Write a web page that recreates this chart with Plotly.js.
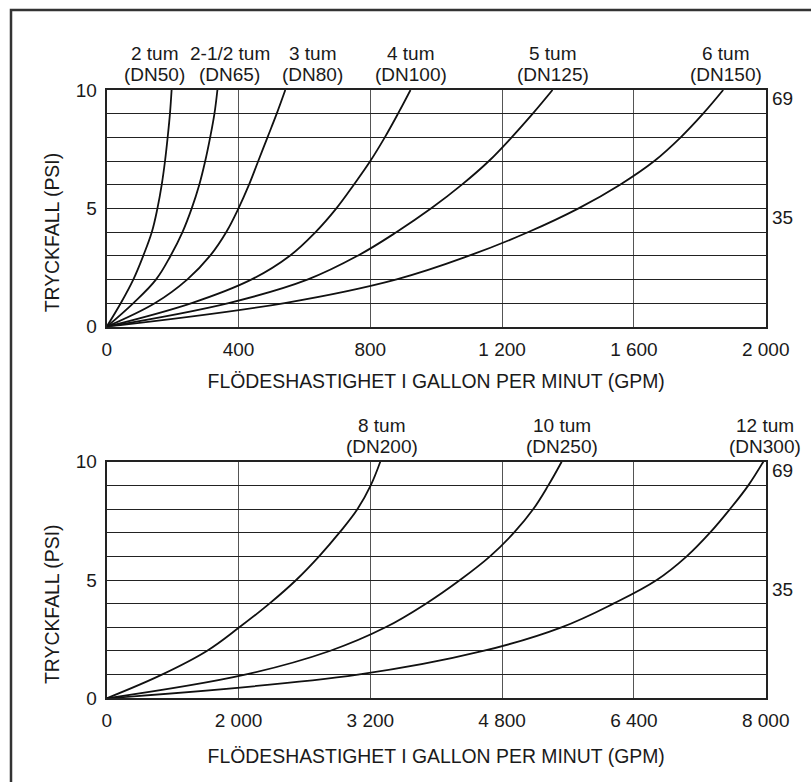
<!DOCTYPE html>
<html>
<head>
<meta charset="utf-8">
<script src="https://cdn.plot.ly/plotly-3.0.1.min.js"></script>
<style>
  html, body { margin: 0; padding: 0; background: #fff; }
  #chart { width: 811px; height: 782px; }
</style>
</head>
<body>
<div id="chart"></div>
<script>
// ---- Data (pressure drop in psi vs flow in GPM) ----
const psiLevels = [0, 1, 2, 3, 4, 5, 6, 7, 8, 9, 10];

// Upper chart: flow (GPM) at each psi level
const flow2in   = [0, 43, 81, 111, 137, 154, 167, 177, 185, 192, 197];
const flow25in  = [0, 81, 150, 194, 230, 258, 281, 299, 314, 327, 336];
const flow3in   = [0, 147, 245, 314, 363, 400, 432, 460, 488, 516, 542];
const flow4in   = [0, 258, 440, 556, 634, 697, 750, 800, 844, 884, 922];
const flow5in   = [0, 370, 611, 762, 880, 985, 1078, 1160, 1229, 1293, 1353];
const flow6in   = [0, 540, 880, 1100, 1280, 1432, 1558, 1662, 1742, 1810, 1871];

// Lower chart
const flow8in   = [0, 670, 1215, 1610, 1975, 2300, 2578, 2825, 3045, 3205, 3321];
const flow10in  = [0, 1680, 2707, 3385, 3875, 4289, 4653, 4944, 5179, 5361, 5523];
const flow12in  = [0, 3050, 4570, 5520, 6150, 6677, 7041, 7324, 7567, 7789, 7971];

const topSeries = [flow2in, flow25in, flow3in, flow4in, flow5in, flow6in];
const topSizeLabels = ['2 tum', '2-1/2 tum', '3 tum', '4 tum', '5 tum', '6 tum'];
const topDnLabels = ['(DN50)', '(DN65)', '(DN80)', '(DN100)', '(DN125)', '(DN150)'];
const topLabelX = [146, 374, 625, 922, 1353, 1880];

const botSeries = [flow8in, flow10in, flow12in];
const botSizeLabels = ['8 tum', '10 tum', '12 tum'];
const botDnLabels = ['(DN200)', '(DN250)', '(DN300)'];
const botLabelX = [3336, 5533, 7990];

const topXTicks = [0, 400, 800, 1200, 1600, 2000];
const topXText = ['0', '400', '800', '1 200', '1 600', '2 000'];
const botXTicks = [0, 1600, 3200, 4800, 6400, 8000];
const botXText = ['0', '2 000', '3 200', '4 800', '6 400', '8 000'];
const yTicks = [0, 1, 2, 3, 4, 5, 6, 7, 8, 9, 10];
const yText = ['0', '', '', '', '', '5', '', '', '', '', '10'];
const kpaLabels = ['69', '35'];
const kpaAt = [10, 5];

const xTitle = 'FLÖDESHASTIGHET I GALLON PER MINUT (GPM)';
const yTitle = 'TRYCKFALL (PSI)';

// ---- Styling ----
const W = 811, H = 782;
const FONT = '"Liberation Sans", Arial, Helvetica, sans-serif';
const TXT = '#1a1a1a';
const FS = 19;
const xDom = [106.7 / W, 765.7 / W];
const topDom = [(H - 326.7) / H, (H - 90) / H];
const botDom = [(H - 698.3) / H, (H - 461.7) / H];

const lineStyle = { color: '#111', width: 1.8, shape: 'spline', smoothing: 1.1 };
const traces = [];
topSeries.forEach((s, i) => traces.push({
  x: s, y: psiLevels, xaxis: 'x', yaxis: 'y', mode: 'lines',
  line: lineStyle, name: topSizeLabels[i], hoverinfo: 'x+y'
}));
botSeries.forEach((s, i) => traces.push({
  x: s, y: psiLevels, xaxis: 'x2', yaxis: 'y2', mode: 'lines',
  line: lineStyle, name: botSizeLabels[i], hoverinfo: 'x+y'
}));

function xAxis(dom, range, tv, tt, anchor, standoff) {
  return {
    domain: dom, range: range, anchor: anchor,
    tickvals: tv, ticktext: tt, ticks: '',
    showgrid: true, gridcolor: '#555', gridwidth: 1,
    zeroline: false, showline: true, mirror: true, linecolor: '#222', linewidth: 2,
    tickfont: { family: FONT, size: FS, color: TXT },
    ticklabelstandoff: 4,
    title: { text: xTitle, font: { family: FONT, size: 19.4, color: TXT }, standoff: standoff },
    fixedrange: true
  };
}
function yAxis(dom, anchor) {
  return {
    domain: dom, range: [0, 10], anchor: anchor,
    tickvals: yTicks, ticktext: yText, ticks: '',
    showgrid: true, gridcolor: '#222', gridwidth: 1,
    zeroline: false, showline: true, mirror: true, linecolor: '#222', linewidth: 2,
    tickfont: { family: FONT, size: FS, color: TXT },
    ticklabelstandoff: 4,
    fixedrange: true
  };
}

const annotations = [];
function addLabels(sizes, dns, xs, xref, yref) {
  sizes.forEach((t, i) => {
    annotations.push({ text: t, x: xs[i], xref: xref, y: 1, yref: yref + ' domain',
      xanchor: 'center', yanchor: 'middle', yshift: 36, showarrow: false,
      font: { family: FONT, size: FS, color: TXT } });
    annotations.push({ text: dns[i], x: xs[i], xref: xref, y: 1, yref: yref + ' domain',
      xanchor: 'center', yanchor: 'middle', yshift: 15, showarrow: false,
      font: { family: FONT, size: FS, color: TXT } });
  });
}
addLabels(topSizeLabels, topDnLabels, topLabelX, 'x', 'y');
addLabels(botSizeLabels, botDnLabels, botLabelX, 'x2', 'y2');
['x', 'x2'].forEach((xr, k) => {
  const yr = k === 0 ? 'y' : 'y2';
  kpaLabels.forEach((t, i) => annotations.push({
    text: t, x: 1, xref: xr + ' domain', y: kpaAt[i], yref: yr,
    xanchor: 'left', yanchor: 'middle', xshift: 4, yshift: -9, showarrow: false,
    font: { family: FONT, size: FS, color: TXT }
  }));
  // y-axis title, placed a little below the vertical centre as in the original
  annotations.push({
    text: yTitle, textangle: -90, x: 52 / W, xref: 'paper', y: 5, yref: yr,
    xanchor: 'center', yanchor: 'middle', yshift: -25, showarrow: false,
    font: { family: FONT, size: 19.4, color: TXT }
  });
});

const layout = {
  width: W, height: H,
  margin: { l: 0, r: 0, t: 0, b: 0 },
  paper_bgcolor: '#fff', plot_bgcolor: '#fff',
  showlegend: false,
  font: { family: FONT, color: TXT },
  xaxis: xAxis(xDom, [0, 2000], topXTicks, topXText, 'y', 16),
  yaxis: yAxis(topDom, 'x'),
  xaxis2: xAxis(xDom, [0, 8000], botXTicks, botXText, 'y2', 19),
  yaxis2: yAxis(botDom, 'x2'),
  annotations: annotations,
  shapes: [{
    type: 'rect', xref: 'paper', yref: 'paper',
    x0: 11 / W, x1: 1.02, y0: -0.02, y1: (H - 10) / H,
    line: { color: '#333', width: 2.5 }
  }]
};

Plotly.newPlot('chart', traces, layout, { displayModeBar: false, staticPlot: true });
</script>
</body>
</html>
